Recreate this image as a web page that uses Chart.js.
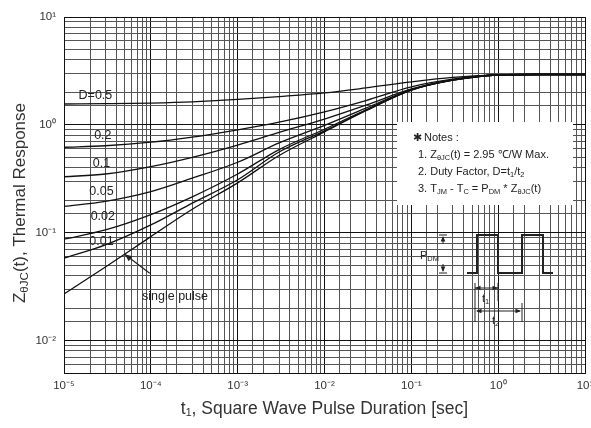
<!DOCTYPE html>
<html>
<head>
<meta charset="utf-8">
<script src="https://cdn.jsdelivr.net/npm/chart.js@4/dist/chart.umd.min.js"></script>
<style>
  html, body { margin: 0; padding: 0; background: #fff; }
  canvas { display: block; }
</style>
</head>
<body>
<canvas id="chart" width="591" height="428"></canvas>
<script>
// pulse duration t1 [sec]
const pulseTimes = [1e-5, 3e-5, 1e-4, 3e-4, 1e-3, 3e-3, 1e-2, 3e-2, 1e-1, 3e-1, 1, 3, 10];

// thermal response Zthjc(t) [°C/W] per duty factor
const zD50   = [1.56, 1.57, 1.59, 1.63, 1.72, 1.83, 1.98, 2.20, 2.50, 2.75, 2.90, 2.93, 2.93];
const zD20   = [0.62, 0.64, 0.69, 0.77, 0.90, 1.06, 1.32, 1.68, 2.25, 2.65, 2.90, 2.93, 2.93];
const zD10   = [0.33, 0.35, 0.41, 0.50, 0.65, 0.85, 1.13, 1.52, 2.15, 2.62, 2.90, 2.93, 2.93];
const zD05   = [0.175, 0.195, 0.24, 0.32, 0.45, 0.68, 0.99, 1.43, 2.12, 2.61, 2.90, 2.93, 2.93];
const zD02   = [0.087, 0.106, 0.147, 0.215, 0.35, 0.59, 0.91, 1.38, 2.11, 2.60, 2.90, 2.93, 2.93];
const zD01   = [0.058, 0.077, 0.118, 0.188, 0.31, 0.56, 0.88, 1.36, 2.10, 2.60, 2.90, 2.93, 2.93];
const zSingle = [0.027, 0.048, 0.092, 0.165, 0.29, 0.52, 0.86, 1.35, 2.10, 2.60, 2.90, 2.93, 2.93];

const seriesNames = ["D=0.5", "0.2", "0.1", "0.05", "0.02", "0.01", "single pulse"];

const xDecades = [-5, -4, -3, -2, -1, 0, 1];
const xTickLabels = ["10⁻⁵", "10⁻⁴", "10⁻³", "10⁻²", "10⁻¹", "10⁰", "10¹"];
const yDecades = [-2, -1, 0, 1];
const yTickLabels = ["10⁻²", "10⁻¹", "10⁰", "10¹"];

const FONT = "'Liberation Sans', Arial, sans-serif";

function isDecade(v) {
    const l = Math.log10(v);
    return Math.abs(l - Math.round(l)) < 1e-6;
}
function decadeLabel(v, decades, labels) {
    if (!isDecade(v)) return "";
    const i = decades.indexOf(Math.round(Math.log10(v)));
    return i >= 0 ? labels[i] : "";
}

// text with subscript parts: [[text, isSub], ...]
function richWidth(ctx, parts, size) {
    let w = 0;
    parts.forEach(([t, sub]) => {
        ctx.font = (sub ? size * 0.68 : size) + "px " + FONT;
        w += ctx.measureText(t).width;
    });
    return w;
}
function drawRich(ctx, parts, x, y, size) {
    ctx.textBaseline = "middle";
    ctx.textAlign = "left";
    parts.forEach(([t, sub]) => {
        ctx.font = (sub ? size * 0.68 : size) + "px " + FONT;
        ctx.fillText(t, x, sub ? y + size * 0.3 : y);
        x += ctx.measureText(t).width;
    });
    return x;
}

function arrowHead(ctx, x, y, angle, len) {
    ctx.beginPath();
    ctx.moveTo(x, y);
    ctx.lineTo(x - len * Math.cos(angle - 0.4), y - len * Math.sin(angle - 0.4));
    ctx.lineTo(x - len * Math.cos(angle + 0.4), y - len * Math.sin(angle + 0.4));
    ctx.closePath();
    ctx.fill();
}

const annotations = {
    id: "annotations",
    beforeDatasetsDraw(chart) {
        const { ctx, chartArea: ca } = chart;
        // white notes box
        ctx.save();
        ctx.fillStyle = "#fff";
        ctx.fillRect(ca.left + 333, ca.top + 105, 176, 83);
        ctx.restore();
    },
    afterDraw(chart) {
        const { ctx, chartArea: ca, scales: { x, y } } = chart;
        ctx.save();
        ctx.fillStyle = "#222";
        ctx.strokeStyle = "#222";

        // curve labels
        const curveLabels = [
            ["D=0.5", 2.3e-5, 1.86], ["0.2", 2.8e-5, 0.79], ["0.1", 2.7e-5, 0.44],
            ["0.05", 2.7e-5, 0.24], ["0.02", 2.8e-5, 0.142], ["0.01", 2.7e-5, 0.083],
            ["single pulse", 1.9e-4, 0.0254]
        ];
        ctx.font = "12.5px " + FONT;
        ctx.textAlign = "center";
        ctx.textBaseline = "middle";
        curveLabels.forEach(([t, vx, vy]) => ctx.fillText(t, x.getPixelForValue(vx), y.getPixelForValue(vy)));

        // single pulse arrow
        const tipX = x.getPixelForValue(5e-5), tipY = y.getPixelForValue(0.063);
        ctx.lineWidth = 1.2;
        ctx.beginPath();
        ctx.moveTo(tipX + 25, tipY + 19);
        ctx.lineTo(tipX, tipY);
        ctx.stroke();
        arrowHead(ctx, tipX, tipY, Math.atan2(-19, -25), 8);

        // notes
        const nx = ca.left + 349, ny = ca.top + 121;
        ctx.font = "11px " + FONT;
        ctx.textBaseline = "middle";
        ctx.textAlign = "left";
        ctx.fillText("✱", nx, ny);
        ctx.fillText("Notes :", nx + 11, ny);
        drawRich(ctx, [["1. Z", 0], ["θJC", 1], ["(t) = 2.95 ℃/W Max.", 0]], nx + 5, ny + 17, 11);
        drawRich(ctx, [["2. Duty Factor, D=t", 0], ["1", 1], ["/t", 0], ["2", 1]], nx + 5, ny + 34, 11);
        drawRich(ctx, [["3. T", 0], ["JM", 1], [" - T", 0], ["C", 1], [" = P", 0], ["DM", 1], [" * Z", 0], ["θJC", 1], ["(t)", 0]], nx + 5, ny + 51, 11);

        // pulse waveform
        const bx = ca.left, by = ca.top;
        const base = by + 256, top = by + 218;
        ctx.lineWidth = 2;
        ctx.beginPath();
        ctx.moveTo(bx + 403, base);
        ctx.lineTo(bx + 413, base); ctx.lineTo(bx + 413, top); ctx.lineTo(bx + 434, top); ctx.lineTo(bx + 434, base);
        ctx.lineTo(bx + 458, base); ctx.lineTo(bx + 458, top); ctx.lineTo(bx + 479, top); ctx.lineTo(bx + 479, base);
        ctx.lineTo(bx + 489, base);
        ctx.stroke();

        // P_DM marker
        ctx.lineWidth = 1;
        const px = bx + 379;
        ctx.beginPath();
        ctx.moveTo(px - 4, top); ctx.lineTo(px + 4, top);
        ctx.moveTo(px, top + 2); ctx.lineTo(px, top + 9);
        ctx.moveTo(px - 4, base); ctx.lineTo(px + 4, base);
        ctx.moveTo(px, base - 2); ctx.lineTo(px, base - 9);
        ctx.stroke();
        arrowHead(ctx, px, top + 1, -Math.PI / 2, 6);
        arrowHead(ctx, px, base - 1, Math.PI / 2, 6);
        drawRich(ctx, [["P", 0], ["DM", 1]], bx + 356, by + 239, 11);

        // t1 / t2 markers
        ctx.beginPath();
        ctx.moveTo(bx + 411, base + 10); ctx.lineTo(bx + 411, base + 49);
        ctx.moveTo(bx + 434, base + 10); ctx.lineTo(bx + 434, base + 28);
        ctx.moveTo(bx + 458, base + 30); ctx.lineTo(bx + 458, base + 49);
        ctx.moveTo(bx + 411, base + 15); ctx.lineTo(bx + 434, base + 15);
        ctx.moveTo(bx + 413, base + 38); ctx.lineTo(bx + 456, base + 38);
        ctx.stroke();
        arrowHead(ctx, bx + 411, base + 15, Math.PI, 6);
        arrowHead(ctx, bx + 434, base + 15, 0, 6);
        arrowHead(ctx, bx + 412, base + 38, Math.PI, 6);
        arrowHead(ctx, bx + 457, base + 38, 0, 6);
        drawRich(ctx, [["t", 0], ["1", 1]], bx + 418, base + 26, 11);
        drawRich(ctx, [["t", 0], ["2", 1]], bx + 428, base + 48, 11);

        // y axis title
        ctx.translate(20, (ca.top + ca.bottom) / 2 + 8);
        ctx.rotate(-Math.PI / 2);
        ctx.fillStyle = "#333";
        const yParts = [["Z", 0], ["θJC", 1], ["(t), Thermal Response", 0]];
        drawRich(ctx, yParts, -richWidth(ctx, yParts, 17) / 2, 0, 17);
        ctx.restore();
    }
};

function curve(values) {
    return pulseTimes.map((t, i) => ({ x: t, y: values[i] }));
}

const allSeries = [zD50, zD20, zD10, zD05, zD02, zD01, zSingle];

new Chart(document.getElementById("chart").getContext("2d"), {
    type: "line",
    data: {
        datasets: allSeries.map((vals, i) => ({
            label: seriesNames[i],
            data: curve(vals),
            borderColor: "#111",
            borderWidth: 1.3,
            pointRadius: 0,
            fill: false,
            cubicInterpolationMode: "monotone"
        }))
    },
    options: {
        responsive: false,
        animation: false,
        layout: { padding: { top: 17, right: 6, left: 0, bottom: 0 } },
        plugins: { legend: { display: false }, tooltip: { enabled: false } },
        scales: {
            x: {
                type: "logarithmic",
                min: 1e-5, max: 10,
                afterFit(scale) { scale.height = 55; scale.paddingLeft = 0; scale.paddingRight = 0; },
                grid: {
                    drawTicks: false,
                    color: c => isDecade(c.tick.value) ? "#111" : "#555",
                    lineWidth: 1
                },
                border: { color: "#111", width: 1 },
                ticks: {
                    autoSkip: false, maxRotation: 0, padding: 6, color: "#333",
                    font: { family: FONT, size: 11.5 },
                    callback: v => decadeLabel(v, xDecades, xTickLabels)
                },
                title: {
                    display: true, text: "t₁, Square Wave Pulse Duration [sec]",
                    color: "#333", font: { family: FONT, size: 17.5 }, padding: { top: 0, bottom: 8 }
                }
            },
            y: {
                type: "logarithmic",
                min: 0.005, max: 10,
                afterFit(scale) { scale.width = 64; },
                grid: {
                    drawTicks: false,
                    color: c => isDecade(c.tick.value) ? "#111" : "#555",
                    lineWidth: 1
                },
                border: { color: "#111", width: 1 },
                ticks: {
                    autoSkip: false, padding: 8, color: "#333",
                    font: { family: FONT, size: 11.5 },
                    callback: v => decadeLabel(v, yDecades, yTickLabels)
                }
            }
        }
    },
    plugins: [annotations]
});
</script>
</body>
</html>
